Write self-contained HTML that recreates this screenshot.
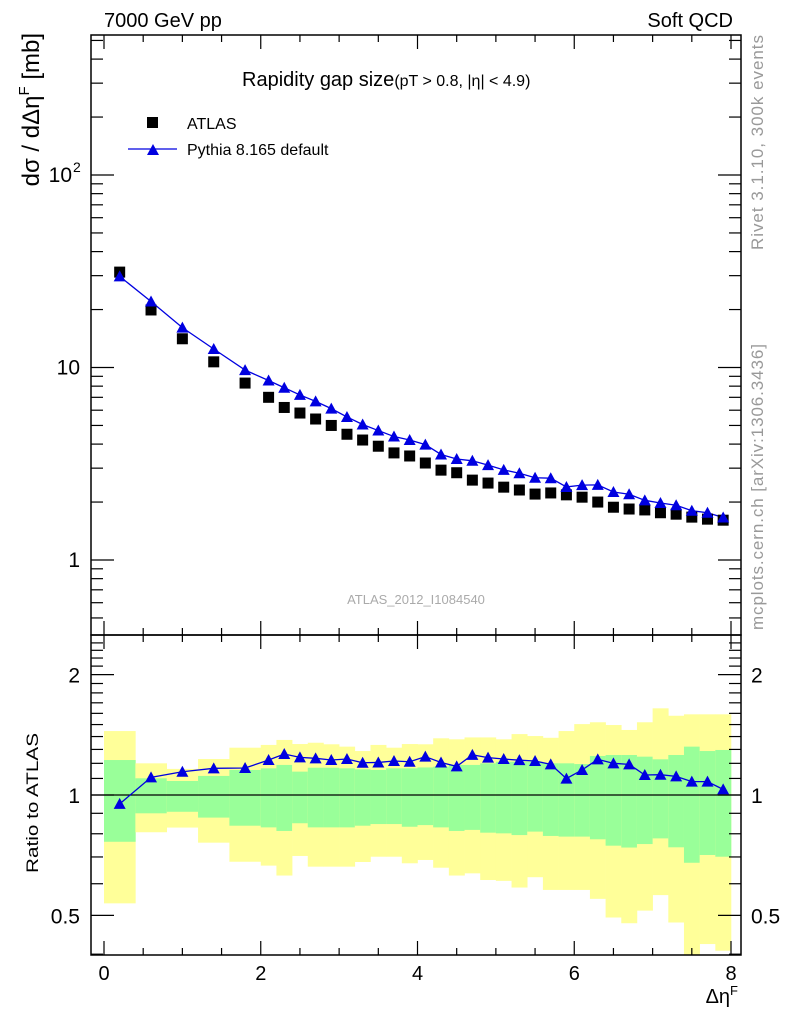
<!DOCTYPE html>
<html><head><meta charset="utf-8"><style>
html,body{margin:0;padding:0;background:#fff;}
svg{display:block;font-family:"Liberation Sans",Arial,sans-serif;}
</style></head><body>
<svg id="chart" width="786" height="1024" viewBox="0 0 786 1024" xmlns="http://www.w3.org/2000/svg">
<g id="bands"></g>
<g id="marks"></g>
<g id="axes"></g>
<text x="104" y="27" font-size="20">7000 GeV pp</text>
<text x="733" y="27" font-size="20" text-anchor="end">Soft QCD</text>
<text x="242" y="86" font-size="20">Rapidity gap size<tspan font-size="16">(pT &gt; 0.8, |η| &lt; 4.9)</tspan></text>
<rect x="147" y="117" width="11" height="11" fill="#000"/>
<text x="187" y="129" font-size="16">ATLAS</text>
<line x1="128" y1="149" x2="177" y2="149" stroke="#0000e0" stroke-width="1.3"/>
<polygon points="147,155 159,155 153,144" fill="#0000e0"/>
<text x="187" y="155" font-size="16">Pythia 8.165 default</text>
<text x="416" y="604" font-size="13" fill="#aaa" text-anchor="middle">ATLAS_2012_I1084540</text>
<text transform="translate(39,33) rotate(-90)" font-size="24" text-anchor="end">dσ / dΔη<tspan font-size="15" dy="-10">F</tspan><tspan dy="10"> [mb]</tspan></text>
<text transform="translate(38,873) rotate(-90)" font-size="17" textLength="140" lengthAdjust="spacingAndGlyphs">Ratio to ATLAS</text>
<text x="738" y="1003" font-size="20" text-anchor="end">Δη<tspan font-size="13" dy="-8">F</tspan></text>
<text transform="translate(763,250) rotate(-90)" font-size="17" fill="#999" textLength="215">Rivet 3.1.10,  300k events</text>
<text transform="translate(763,630) rotate(-90)" font-size="17" fill="#999" textLength="286">mcplots.cern.ch [arXiv:1306.3436]</text>
</svg>
<script>
const edges=[0,0.4,0.8,1.2,1.6,2.0,2.2,2.4,2.6,2.8,3.0,3.2,3.4,3.6,3.8,4.0,4.2,4.4,4.6,4.8,5.0,5.2,5.4,5.6,5.8,6.0,6.2,6.4,6.6,6.8,7.0,7.2,7.4,7.6,7.8,8.0];
const atlas=[31.3,19.9,14.1,10.7,8.3,7.0,6.2,5.8,5.4,5.0,4.5,4.2,3.9,3.6,3.47,3.19,2.93,2.84,2.60,2.51,2.39,2.31,2.20,2.23,2.18,2.12,2.0,1.88,1.84,1.82,1.76,1.73,1.67,1.63,1.61];
const ratio=[0.95,1.107,1.143,1.166,1.168,1.223,1.266,1.242,1.235,1.223,1.23,1.204,1.206,1.216,1.211,1.247,1.206,1.179,1.26,1.24,1.23,1.222,1.216,1.193,1.099,1.155,1.228,1.2,1.193,1.122,1.124,1.113,1.08,1.08,1.033];
const yelUp=[1.445,1.20,1.162,1.23,1.313,1.334,1.373,1.341,1.351,1.339,1.321,1.288,1.334,1.313,1.341,1.339,1.386,1.378,1.393,1.393,1.378,1.42,1.404,1.39,1.445,1.504,1.52,1.496,1.454,1.52,1.647,1.578,1.591,1.591,1.591];
const yelLo=[0.536,0.807,0.829,0.760,0.681,0.666,0.629,0.704,0.662,0.662,0.662,0.680,0.701,0.701,0.675,0.688,0.658,0.629,0.637,0.613,0.61,0.587,0.623,0.579,0.579,0.579,0.55,0.494,0.478,0.514,0.562,0.48,0.3,0.424,0.408];
const grnUp=[1.223,1.101,1.084,1.116,1.155,1.166,1.189,1.144,1.17,1.17,1.166,1.159,1.155,1.166,1.166,1.172,1.177,1.189,1.189,1.20,1.211,1.211,1.211,1.20,1.20,1.195,1.252,1.259,1.259,1.247,1.228,1.259,1.321,1.288,1.296];
const grnLo=[0.764,0.90,0.908,0.878,0.838,0.830,0.813,0.85,0.830,0.830,0.830,0.838,0.846,0.846,0.833,0.841,0.830,0.813,0.818,0.805,0.802,0.794,0.81,0.79,0.787,0.787,0.775,0.747,0.739,0.754,0.779,0.74,0.677,0.708,0.701];
const xTicks=[0,2,4,6,8];
const mainTicks=[1,10,100];
const mainTickBase=["1","10","10"];
const mainTickSup=["","","2"];
const ratioTicks=[0.5,1,2];

const NS="http://www.w3.org/2000/svg";
const L=91,R=741,T=35,M=635,B=955;
const X=v=>104+v*78.375;
const Y=v=>560-192.5*Math.log10(v);
const YR=v=>Math.max(M,Math.min(B,795-400*Math.log10(v)));
function mk(tag,attrs,parent){const e=document.createElementNS(NS,tag);for(const k in attrs)e.setAttribute(k,attrs[k]);parent.appendChild(e);return e;}
const bands=document.getElementById('bands'),marks=document.getElementById('marks'),axes=document.getElementById('axes');

for(let i=0;i<atlas.length;i++){
  const x0=X(edges[i]),x1=X(edges[i+1]);
  const y=mk('rect',{x:x0,y:YR(yelUp[i]),width:x1-x0+0.3,height:YR(yelLo[i])-YR(yelUp[i]),fill:'#ffff99'},bands);
  
  
  const g=mk('rect',{x:x0,y:YR(grnUp[i]),width:x1-x0+0.3,height:YR(grnLo[i])-YR(grnUp[i]),fill:'#99ff99'},bands);
  
  
}
const one=mk('line',{x1:L,x2:R,y1:YR(1),y2:YR(1),stroke:'#000','stroke-width':1.2},marks);



let pm=[],pr=[];
for(let i=0;i<atlas.length;i++){
  const xc=(edges[i]+edges[i+1])/2, mc=atlas[i]*ratio[i];
  pm.push(X(xc)+','+Y(mc)); pr.push(X(xc)+','+YR(ratio[i]));
}
const lm=mk('polyline',{points:pm.join(' '),fill:'none',stroke:'#0000e0','stroke-width':1.3},marks);


const lr=mk('polyline',{points:pr.join(' '),fill:'none',stroke:'#0000e0','stroke-width':1.3},marks);


for(let i=0;i<atlas.length;i++){
  const xc=X((edges[i]+edges[i+1])/2), mc=atlas[i]*ratio[i];
  const s=mk('rect',{x:xc-5.5,y:Y(atlas[i])-5.5,width:11,height:11,fill:'#000'},marks);
  
  
  const t=mk('polygon',{points:`${xc-6},${Y(mc)+5} ${xc+6},${Y(mc)+5} ${xc},${Y(mc)-6}`,fill:'#0000e0'},marks);
  
  
  const tr=mk('polygon',{points:`${xc-6},${YR(ratio[i])+5} ${xc+6},${YR(ratio[i])+5} ${xc},${YR(ratio[i])-6}`,fill:'#0000e0'},marks);
  
  
}

for(const [y0,y1,n] of [[T,M,'main-frame'],[M,B,'ratio-frame']]){
  const f=mk('rect',{x:L,y:y0,width:R-L,height:y1-y0,fill:'none',stroke:'#000','stroke-width':1.5},axes);
  
  
}
function tk(x1,y1,x2,y2){mk('line',{x1,y1,x2,y2,stroke:'#000','stroke-width':1.2},axes);}
for(let v=0;v<=8.001;v+=0.5){
  const x=X(v),len=(Math.abs(v/2-Math.round(v/2))<1e-6)?14:7;
  tk(x,B,x,B-len);tk(x,M,x,M-len);tk(x,M,x,M+len);tk(x,T,x,T+len);
}
xTicks.forEach(v=>{
  const t=mk('text',{x:X(v),y:980,'font-size':20,'text-anchor':'middle'},axes);
  t.textContent=String(v);
  
  
});
for(let d=-1;d<=2;d++){for(let m=1;m<=9;m++){
  const v=m*Math.pow(10,d),y=Y(v); if(y<T||y>M)continue;
  const len=m===1?23:12; tk(L,y,L+len,y);tk(R,y,R-len,y);
}}
mainTicks.forEach((v,i)=>{
  const t=mk('text',{x:mainTickSup[i]?72:80,y:Y(v)+7,'font-size':21,'text-anchor':'end'},axes);
  t.textContent=mainTickBase[i];
  
  
  if(mainTickSup[i]){
    const s=mk('text',{x:73,y:Y(v)-3,'font-size':14},axes);
    s.textContent=mainTickSup[i];
    
    
  }
});
[0.4,0.5,0.6,0.7,0.8,0.9,1,2].forEach(v=>{
  const y=YR(v),len=(v===0.5||v===1||v===2)?23:12; tk(L,y,L+len,y);tk(R,y,R-len,y);
});
for(let v=1.1;v<2.5;v+=0.1){const y=YR(v);if(Math.abs(v-2)<0.01||y<=M)continue;tk(L,y,L+12,y);tk(R,y,R-12,y);}
ratioTicks.forEach(v=>{
  const t=mk('text',{x:80,y:YR(v)+8,'font-size':21,'text-anchor':'end'},axes);
  t.textContent=String(v);
  
  
  const t2=mk('text',{x:751,y:YR(v)+8,'font-size':21},axes);
  t2.textContent=String(v);
  
  
});
</script>
</body></html>
